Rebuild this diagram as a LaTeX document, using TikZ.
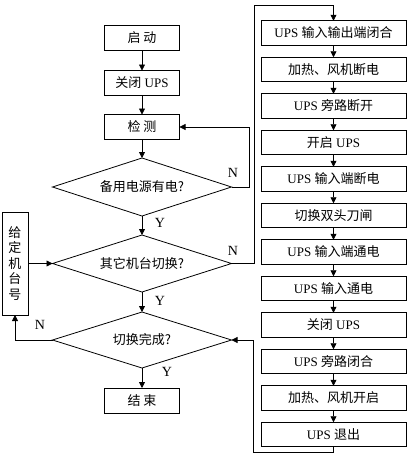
\documentclass[tikz,border=0pt]{standalone}
\usepackage{fontspec}
\setmainfont{Liberation Serif}
\newfontfamily\cjk{Noto Sans CJK SC}
\usetikzlibrary{shapes.geometric,arrows.meta}
\begin{document}
\begin{tikzpicture}[x=1pt,y=-1pt,
  every node/.style={inner sep=0pt,outer sep=0pt},
  line/.style={draw=black,line width=0.8pt},
  arr/.style={line,-{Triangle[length=6pt,width=6pt]}},
  lbox/.style={line,rectangle,minimum width=75pt,minimum height=25pt,font=\fontsize{13}{15}\selectfont},
  rbox/.style={line,rectangle,minimum width=145pt,minimum height=24.5pt,font=\fontsize{13}{15}\selectfont},
  dia/.style={line,diamond,aspect=3.1,minimum width=179pt,font=\fontsize{13}{15}\selectfont},
  yn/.style={font=\fontsize{14}{16}\selectfont}
]
\fill[white] (0,0) rectangle (415,458);
\useasboundingbox (0,0) rectangle (415,458);
% left column
\node[lbox] (start) at (142,38) {\cjk 启 动};
\node[lbox] (close) at (142,83) {{\cjk 关闭} UPS};
\node[lbox] (detect) at (142,127) {\cjk 检 测};
\node[dia,minimum height=58pt] (d1) at (142,187) {\cjk 备用电源有电?};
\node[dia,minimum height=57pt] (d2) at (142,263.5) {\cjk 其它机台切换?};
\node[dia,minimum height=56pt] (d3) at (142,340) {\cjk 切换完成?};
\node[lbox] (end) at (142,400.5) {\cjk 结 束};
\node[line,rectangle,minimum width=26pt,minimum height=103pt,align=center,
      font=\fontsize{13}{15.5}\selectfont\cjk] (given) at (15,263.5) {给\\定\\机\\台\\号};
% right column
\node[rbox] (r1) at (333.5,33) {UPS {\cjk 输入输出端闭合}};
\node[rbox] (r2) at (333.5,69.5) {\cjk 加热、风机断电};
\node[rbox] (r3) at (333.5,106) {UPS {\cjk 旁路断开}};
\node[rbox] (r4) at (333.5,142.5) {{\cjk 开启} UPS};
\node[rbox] (r5) at (333.5,179) {UPS {\cjk 输入端断电}};
\node[rbox] (r6) at (333.5,215.5) {\cjk 切换双头刀闸};
\node[rbox] (r7) at (333.5,252) {UPS {\cjk 输入端通电}};
\node[rbox] (r8) at (333.5,288.5) {UPS {\cjk 输入通电}};
\node[rbox] (r9) at (333.5,325) {{\cjk 关闭} UPS};
\node[rbox] (r10) at (333.5,361.5) {UPS {\cjk 旁路闭合}};
\node[rbox] (r11) at (333.5,398) {\cjk 加热、风机开启};
\node[rbox] (r12) at (333.5,434.5) {UPS {\cjk 退出}};
% labels
\node[yn] (n1) at (233,173) {N};
\node[yn] (n2) at (233,251) {N};
\node[yn] (n3) at (40,325) {N};
\node[yn] (y1) at (160,223) {Y};
\node[yn] (y2) at (160,301) {Y};
\node[yn] (y3) at (167,372) {Y};
% coordinates
\coordinate (c1) at (254,5);
\coordinate (c2) at (253,452);
\coordinate (c3) at (249,187);
% connectors
\draw[arr] (start) -- (close);
\draw[arr] (close) -- (detect);
\draw[arr] (detect) -- (d1);
\draw[arr] (d1.east) -- (c3) |- (detect.east);
\draw[arr] (d1.south) -- (d2.north);
\draw[arr] (d2.east) -| (c1) -| (r1.north);
\foreach \a/\b in {r1/r2,r2/r3,r3/r4,r4/r5,r5/r6,r6/r7,r7/r8,r8/r9,r9/r10,r10/r11,r11/r12}
  \draw[arr] (\a) -- (\b);
\draw[arr] (r12.south) |- (c2) |- (d3.east);
\draw[arr] (given.east) -- (d2.west);
\draw[arr] (d2.south) -- (d3.north);
\draw[arr] (d3.west) -| (given.south);
\draw[arr] (d3.south) -- (end.north);
\end{tikzpicture}
\end{document}
